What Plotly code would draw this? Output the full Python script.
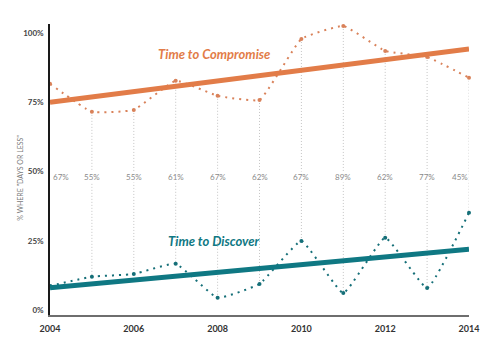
import plotly.graph_objects as go

years = [2004, 2005, 2006, 2007, 2008, 2009, 2010, 2011, 2012, 2013, 2014]
compromise = [81.6, 71.5, 72.2, 82.7, 77.3, 75.8, 97.8, 102.5, 93.5, 91.3, 83.8]
discover = [8.7, 12.0, 13.0, 16.7, 4.4, 9.4, 24.9, 6.1, 26.1, 7.9, 35.1]
pct_labels = ["67%", "55%", "55%", "61%", "67%", "62%", "67%", "89%", "62%", "77%", "45%"]
trend_years = [2004, 2014]
trend_compromise = [75.0, 94.2]
trend_discover = [8.0, 21.9]
y_ticks = [0, 25, 50, 75, 100]
y_ticktext = ["0%", "25%", "50%", "75%", "100%"]
x_ticks = [2004, 2006, 2008, 2010, 2012, 2014]

ORANGE = "#E27C48"
TEAL = "#0F7883"
DOT_ORANGE = "#D9825A"
DOT_TEAL = "#156F78"
FONT = "Lato"

fig = go.Figure()

# vertical connector lines (compromise -> discover) for each year after 2004
vx, vy = [], []
for yr, c, d in zip(years[1:], compromise[1:], discover[1:]):
    vx += [yr, yr, None]
    vy += [c, d, None]
fig.add_trace(go.Scatter(x=vx, y=vy, mode="lines",
                         line=dict(color="#c4c4c4", width=1, dash="1px,2px"),
                         hoverinfo="skip", showlegend=False))

# dotted series
fig.add_trace(go.Scatter(x=years, y=compromise, mode="lines+markers",
                         line=dict(color=DOT_ORANGE, width=2, dash="2px,5px", shape="spline", smoothing=0.35),
                         marker=dict(color=DOT_ORANGE, size=4),
                         cliponaxis=False, showlegend=False))
fig.add_trace(go.Scatter(x=years, y=discover, mode="lines+markers",
                         line=dict(color=DOT_TEAL, width=2, dash="2px,5px", shape="spline", smoothing=0.35),
                         marker=dict(color=DOT_TEAL, size=4),
                         cliponaxis=False, showlegend=False))

# trend lines
fig.add_trace(go.Scatter(x=trend_years, y=trend_compromise, mode="lines",
                         line=dict(color=ORANGE, width=5), showlegend=False))
fig.add_trace(go.Scatter(x=trend_years, y=trend_discover, mode="lines",
                         line=dict(color=TEAL, width=5), showlegend=False))

# percent labels
for i, (yr, lab) in enumerate(zip(years, pct_labels)):
    anchor = "left" if i == 0 else ("right" if i == len(years) - 1 else "center")
    fig.add_annotation(x=yr, y=48.0, text=lab, showarrow=False, xanchor=anchor,
                       xshift=2 if i == 0 else 0,
                       yanchor="middle", bgcolor="white", borderpad=0,
                       font=dict(family=FONT, size=8, color="#8a8a8a"))

# series titles
fig.add_annotation(x=2007.91, y=92.4, text="<b><i>Time to Compromise</i></b>", showarrow=False,
                   font=dict(family=FONT, size=13, color=ORANGE))
fig.add_annotation(x=2007.91, y=24.9, text="<b><i>Time to Discover</i></b>", showarrow=False,
                   font=dict(family=FONT, size=13, color=TEAL))

# y-axis title
fig.add_annotation(xref="paper", x=-0.072, y=47.7, text='% WHERE "DAYS OR LESS"', textangle=-90,
                   showarrow=False, xanchor="center", yanchor="middle",
                   font=dict(family=FONT, size=7, color="#7a7a7a"))

fig.update_layout(
    width=500, height=347,
    margin=dict(l=50, r=31, t=24, b=32),
    plot_bgcolor="white", paper_bgcolor="white",
    font=dict(family=FONT),
    xaxis=dict(range=[2004, 2014], tickvals=x_ticks, ticktext=[str(v) for v in x_ticks],
               showgrid=False, zeroline=False, showline=True, linecolor="#6e6e6e", linewidth=2,
               ticks="", tickfont=dict(family=FONT, size=9, color="#333333", weight="bold"),
               ticklabelstandoff=4),
    yaxis=dict(range=[-1.8, 103.2], tickvals=y_ticks, ticktext=y_ticktext,
               showgrid=False, zeroline=False, showline=True, linecolor="#1a1a1a", linewidth=1.5,
               ticks="", tickfont=dict(family=FONT, size=8, color="#444444", weight="bold"),
               ticklabelstandoff=3),
)

fig.write_html("out.html")
